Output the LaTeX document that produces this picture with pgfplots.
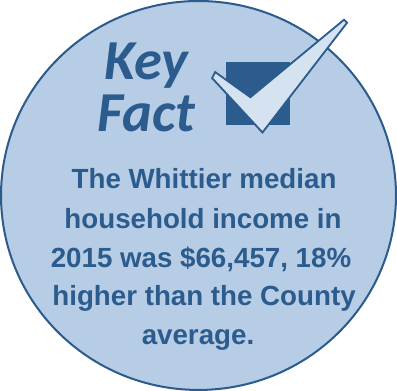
\documentclass[border=0pt]{standalone}
\usepackage{pgfplots}
\pgfplotsset{compat=1.18}
\usepackage{fontspec}
\setmainfont{Liberation Sans}
\newfontfamily\keyfont{Carlito}
\definecolor{bgfill}{HTML}{B6CDE5}
\definecolor{darkblue}{HTML}{2C5B8D}
\definecolor{checkfill}{HTML}{D5E2F0}
\begin{document}
\begin{tikzpicture}
\begin{axis}[scale only axis, width=397pt, height=394pt,
  xmin=0, xmax=397, ymin=0, ymax=394, y dir=reverse,
  hide axis, clip=false]
\draw[darkblue, line width=2pt, fill=bgfill] (axis cs:198.5,199.5) ellipse [x radius=196pt, y radius=193pt];
\addplot[draw=none, fill=darkblue] coordinates {(226,67) (289,67) (289,130) (226,130)} -- cycle;
\addplot[draw=darkblue, line width=1.8pt, fill=checkfill, line join=miter] coordinates {(212,83) (215,77) (250,102) (343,25) (346,28) (262,137)} -- cycle;
\node[anchor=south west, inner sep=0pt, align=left, text=darkblue, font=\keyfont\bfseries\itshape\fontsize{56}{52}\selectfont] at (axis cs:98,137) {\hspace*{7pt}Key\\Fact};
\begin{scope}[every node/.style={anchor=base, inner sep=0pt, text=darkblue, font=\bfseries\fontsize{27.5}{27.5}\selectfont}]
\node at (axis cs:204,193) {The Whittier median};
\node at (axis cs:203,232) {household income in};
\node at (axis cs:201,271) {2015 was \$66,457, 18\%};
\node at (axis cs:204,309) {higher than the County};
\node at (axis cs:198,347) {average.};
\end{scope}
\end{axis}
\end{tikzpicture}
\end{document}
